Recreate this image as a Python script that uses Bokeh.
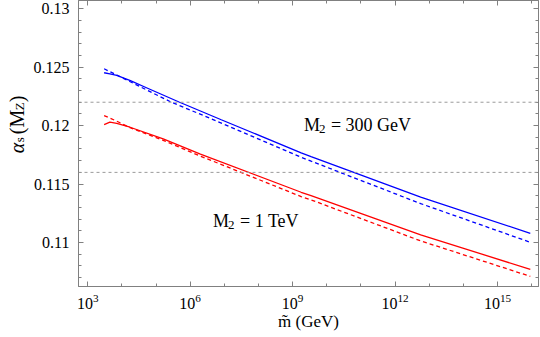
import math
from bokeh.plotting import figure
from bokeh.layouts import row
from bokeh.models import (Range1d, FixedTicker, LinearAxis, LogAxis, Span, Label,
                          CustomJSTickFormatter)
from bokeh.embed import file_html
from bokeh.resources import INLINE

# ---- data (log10 of m-tilde in GeV, alpha_s(MZ)) ----
blue_solid_logm = [3.48, 3.65, 3.85, 4.25, 4.72, 5.69, 6.91, 9.25, 9.54, 10.77, 12.75, 15.96]
blue_solid = [0.12452, 0.12443, 0.12429, 0.12385, 0.12324, 0.12200, 0.12050, 0.11767, 0.11735, 0.11602, 0.11389, 0.11079]

blue_dashed_logm = [3.48, 3.85, 4.72, 5.45, 6.40, 9.25, 9.54, 12.75, 15.96]
blue_dashed = [0.12486, 0.12433, 0.12306, 0.12200, 0.12085, 0.11729, 0.11696, 0.11333, 0.11002]

red_solid_logm = [3.48, 3.65, 3.85, 4.24, 5.21, 6.30, 9.25, 9.54, 12.75, 15.96]
red_solid = [0.12009, 0.12029, 0.12020, 0.11986, 0.11887, 0.11757, 0.11430, 0.11402, 0.11065, 0.10771]

red_dashed_logm = [3.48, 3.85, 4.24, 5.21, 6.25, 9.25, 9.54, 12.75, 15.96]
red_dashed = [0.12086, 0.12038, 0.11982, 0.11874, 0.11745, 0.11393, 0.11365, 0.11014, 0.10711]

ref_levels = [0.116, 0.122]
x_major = [1e3, 1e6, 1e9, 1e12, 1e15]
y_major = [0.11, 0.115, 0.12, 0.125, 0.13]

FONT = "Liberation Serif"
AX = "#808080"

TITLE_W = 30

# narrow strip that carries the rotated y-axis title
pt = figure(width=TITLE_W, height=337, x_range=Range1d(0, TITLE_W), y_range=Range1d(0, 337),
            output_backend="svg", toolbar_location=None, min_border=0)
pt.axis.visible = False
pt.xgrid.visible = False
pt.ygrid.visible = False
pt.outline_line_color = None
pt.background_fill_color = "white"
pt.border_fill_color = "white"

p = figure(width=540 - TITLE_W, height=337, x_axis_type="log",
           x_range=Range1d(10 ** 2.73, 10 ** 16.2), y_range=Range1d(0.10624, 0.1307),
           output_backend="svg", toolbar_location=None,
           min_border_left=77 - TITLE_W, min_border_right=2, min_border_top=0, min_border_bottom=51)
p.xgrid.visible = False
p.ygrid.visible = False
p.outline_line_color = AX
p.background_fill_color = "white"
p.border_fill_color = "white"

xticker = FixedTicker(ticks=x_major, minor_ticks=[10.0 ** k for k in range(2, 18)])
yticker = FixedTicker(ticks=y_major, minor_ticks=[round(0.106 + 0.001 * k, 3) for k in range(26)])
yfmt = CustomJSTickFormatter(code="return tick.toFixed(3).replace(/0+$/, '');")


def style_axis(ax, labels=True):
    ax.axis_line_color = AX
    ax.major_tick_line_color = AX
    ax.minor_tick_line_color = AX
    ax.major_tick_in = 5
    ax.major_tick_out = 0
    ax.minor_tick_in = 3
    ax.minor_tick_out = 0
    if labels:
        ax.major_label_text_font = FONT
        ax.major_label_text_font_size = "16px"
        ax.major_label_text_color = "black"
    else:
        ax.major_label_text_font_size = "1px"
        ax.major_label_text_alpha = 0
        ax.major_label_standoff = 0


xa = p.xaxis[0]
xa.ticker = xticker
style_axis(xa)
xa.major_label_standoff = 7
xa.axis_label = "m\u0303 (GeV)"
xa.axis_label_text_font = FONT
xa.axis_label_text_font_size = "17px"
xa.axis_label_text_font_style = "normal"
xa.axis_label_text_color = "black"
xa.axis_label_standoff = 0

ya = p.yaxis[0]
ya.ticker = yticker
ya.formatter = yfmt
style_axis(ya)
ya.major_label_standoff = 9

top = LogAxis(ticker=xticker)
style_axis(top, labels=False)
p.add_layout(top, "above")
right = LinearAxis(ticker=yticker)
style_axis(right, labels=False)
p.add_layout(right, "right")

for lv in ref_levels:
    p.add_layout(Span(location=lv, dimension="width", line_color="#9a9a9a",
                      line_dash="3 3", line_width=1))

def xs(logs):
    return [10 ** v for v in logs]

p.line(xs(blue_solid_logm), blue_solid, line_color="#0000ff", line_width=1.3)
p.line(xs(blue_dashed_logm), blue_dashed, line_color="#0000ff", line_width=1.3, line_dash="4 3")
p.line(xs(red_solid_logm), red_solid, line_color="#ff0000", line_width=1.3)
p.line(xs(red_dashed_logm), red_dashed, line_color="#ff0000", line_width=1.3, line_dash="4 3")

# curve annotations
def add_m2(lx, yv, rest):
    x = 10 ** lx
    common = dict(x=x, y=yv, text_font=FONT, text_color="black", text_baseline="alphabetic")
    p.add_layout(Label(text="M", text_font_size="18px", y_offset=5, **common))
    p.add_layout(Label(text="2", text_font_size="13px", x_offset=15, y_offset=1, **common))
    p.add_layout(Label(text=rest, text_font_size="18px", x_offset=27, y_offset=5, **common))

add_m2(9.33, 0.11962, "= 300 GeV")
add_m2(6.67, 0.11145, "= 1 TeV")

# y-axis title alpha_s(M_Z), rotated, built from pieces in the strip
base = dict(x=16, y=157, text_font=FONT, text_color="black", angle=math.pi / 2,
            text_baseline="alphabetic", text_align="left")
pt.add_layout(Label(text="\u03b1", text_font_size="20px", text_font_style="italic", **base))
pt.add_layout(Label(text="s", text_font_size="13px", y_offset=11, x_offset=3, **base))
pt.add_layout(Label(text="(M", text_font_size="20px", y_offset=19, **base))
pt.add_layout(Label(text="Z", text_font_size="13px", y_offset=43, x_offset=3, **base))
pt.add_layout(Label(text=")", text_font_size="20px", y_offset=51, **base))

layout = row(pt, p, spacing=0)
open("out.html", "w").write(file_html(layout, INLINE))
